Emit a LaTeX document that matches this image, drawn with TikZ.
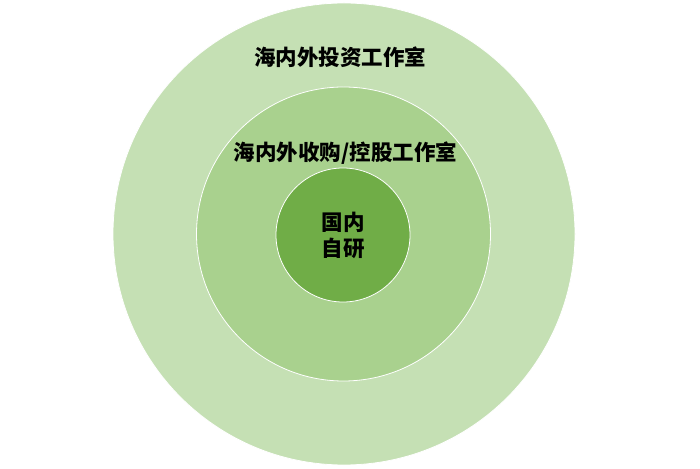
\documentclass[tikz,border=0pt]{standalone}
\usepackage{fontspec}
\newfontfamily\cjk{Noto Sans CJK SC}
\definecolor{ringout}{HTML}{C5E0B4}
\definecolor{ringmid}{HTML}{A9D18E}
\definecolor{ringin}{HTML}{70AD47}

\begin{document}
\begin{tikzpicture}[x=1pt, y=1pt,
		ring/.style={draw=white, line width=0.8pt, circle, inner sep=0pt},
		ringtext/.style={font=\cjk\bfseries\fontsize{21.5}{25.5}\selectfont, text=black, align=center, inner sep=0pt}]
				\useasboundingbox (0, 0) rectangle (700, 468);
				\node[ring, fill=ringout, minimum size=462pt] (Out)at(344, 234) {};
				\node[ring, fill=ringmid, minimum size=294pt] (Mid)at(343.5, 234) {};
				\node[ring, fill=ringin, minimum size=134pt] (In)at(343, 233) {};
				\node[ringtext] (OutT)at(340, 411) {海内外投资工作室};
				\node[ringtext] (MidT)at(345.5, 315) {海内外收购/控股工作室};
				\node[ringtext] (InT)at(343, 232.5) {国内\\自研};
			\end{tikzpicture}
\end{document}
